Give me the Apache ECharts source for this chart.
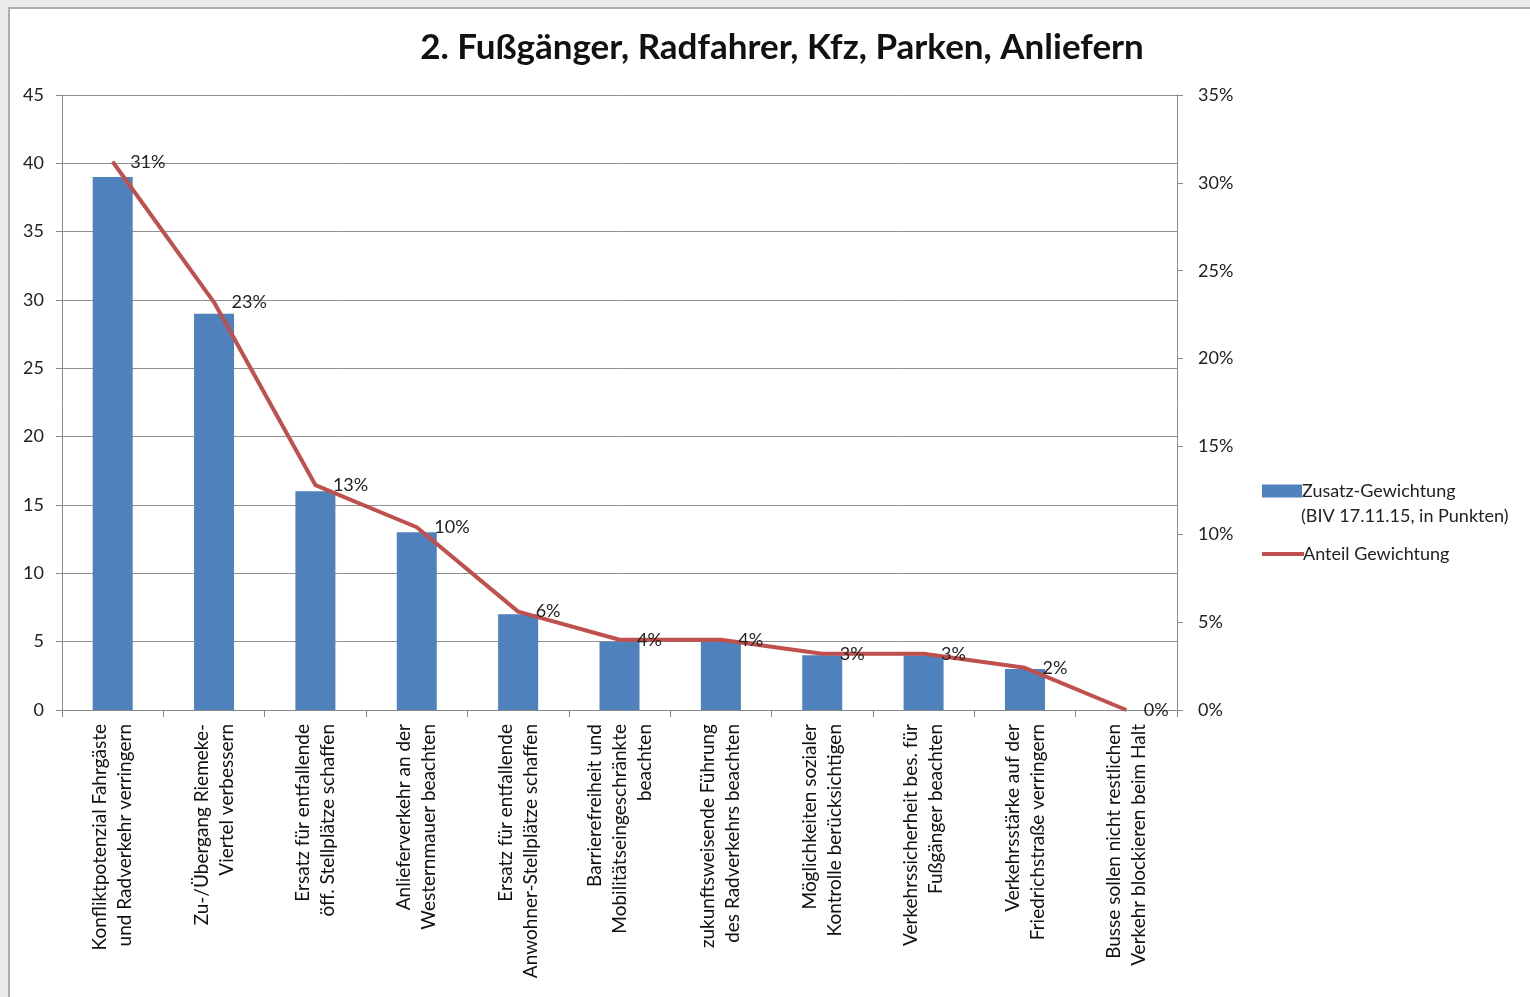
<!DOCTYPE html>
<html>
<head>
<meta charset="utf-8">
<script src="https://cdn.jsdelivr.net/npm/echarts@6/dist/echarts.min.js"></script>
<style>
  html, body { margin: 0; padding: 0; background: #ebebeb; width: 1530px; height: 997px; overflow: hidden; }
  #frame { position: absolute; left: 8px; top: 7px; width: 1530px; height: 1000px; background: #fff; border-left: 2px solid #adadad; border-top: 2px solid #adadad; box-sizing: border-box; }
  #chart { position: absolute; left: 0; top: 0; width: 1530px; height: 997px; }
</style>
</head>
<body>
<div id="frame"></div>
<div id="chart"></div>
<script>
const categories = [
  "Konfliktpotenzial Fahrgäste\nund Radverkehr verringern",
  "Zu-/Übergang Riemeke-\nViertel verbessern",
  "Ersatz für entfallende\nöff. Stellplätze schaffen",
  "Anlieferverkehr an der\nWesternmauer beachten",
  "Ersatz für entfallende\nAnwohner-Stellplätze schaffen",
  "Barrierefreiheit und\nMobilitätseingeschränkte\nbeachten",
  "zukunftsweisende Führung\ndes Radverkehrs beachten",
  "Möglichkeiten sozialer\nKontrolle berücksichtigen",
  "Verkehrssicherheit bes. für\nFußgänger beachten",
  "Verkehrsstärke auf der\nFriedrichstraße verringern",
  "Busse sollen nicht restlichen\nVerkehr blockieren beim Halt"
];
const points = [39, 29, 16, 13, 7, 5, 5, 4, 4, 3, 0];
const shares = [31.2, 23.2, 12.8, 10.4, 5.6, 4.0, 4.0, 3.2, 3.2, 2.4, 0];
const leftTicks = { min: 0, max: 45, interval: 5 };
const rightTicks = { min: 0, max: 35, interval: 5 };
const titleText = "2. Fußgänger, Radfahrer, Kfz, Parken, Anliefern";
const barName = "Zusatz-Gewichtung (BIV 17.11.15, in Punkten)";
const barLegendLines = ["Zusatz-Gewichtung", "(BIV 17.11.15, in Punkten)"];
const lineName = "Anteil Gewichtung";

const FONT = "Lato, 'Open Sans', sans-serif";
const chart = echarts.init(document.getElementById('chart'));
const axisColor = '#8a8a8a';
chart.setOption({
  animation: false,
  backgroundColor: 'transparent',
  textStyle: { fontFamily: FONT },
  title: {
    text: titleText,
    left: 777, top: 25, textAlign: 'center',
    textStyle: { fontFamily: FONT, fontSize: 35, fontWeight: 'bold', color: '#111' }
  },
  grid: { left: 62, right: 353, top: 95, bottom: 287, containLabel: false },
  legend: [
    {
      data: [{ name: barName, icon: 'rect' }], orient: 'vertical', left: 1257, top: 477,
      itemWidth: 40, itemHeight: 13, itemGap: 0,
      formatter: () => barLegendLines[0],
      textStyle: { fontFamily: FONT, fontSize: 18, color: '#222', padding: [0, 0, 0, -5] }
    },
    {
      data: [{ name: lineName, icon: 'rect' }], orient: 'vertical', left: 1257, top: 540,
      itemWidth: 42, itemHeight: 4, itemGap: 0,
      textStyle: { fontFamily: FONT, fontSize: 18, color: '#222', padding: [0, 0, 0, -6] }
    }
  ],
  graphic: [
    { type: 'text', left: 1301, top: 507, style: { text: barLegendLines[1], font: '18px ' + FONT, fill: '#222' } }
  ],
  xAxis: {
    type: 'category', data: categories,
    axisLine: { lineStyle: { color: axisColor, width: 1 } },
    axisTick: { show: true, interval: 0, length: 7, lineStyle: { color: axisColor } },
    axisLabel: { interval: 0, rotate: 90, margin: 14, fontFamily: FONT, fontSize: 19, lineHeight: 25, color: '#111' }
  },
  yAxis: [
    {
      type: 'value', min: leftTicks.min, max: leftTicks.max, interval: leftTicks.interval,
      axisLine: { show: true, lineStyle: { color: axisColor } },
      axisTick: { show: true, length: 6, lineStyle: { color: axisColor } },
      axisLabel: { margin: 18, fontFamily: FONT, fontSize: 18, color: '#222' },
      splitLine: { lineStyle: { color: '#8f8f8f', width: 1 } }
    },
    {
      type: 'value', min: rightTicks.min, max: rightTicks.max, interval: rightTicks.interval,
      axisLine: { show: true, lineStyle: { color: axisColor } },
      axisTick: { show: true, length: 6, lineStyle: { color: axisColor } },
      axisLabel: { margin: 21, fontFamily: FONT, fontSize: 18, color: '#222', formatter: v => v + '%' },
      splitLine: { show: false }
    }
  ],
  series: [
    {
      name: barName, type: 'bar', data: points, yAxisIndex: 0,
      barWidth: 40, itemStyle: { color: '#4f81bd' }, z: 2
    },
    {
      name: lineName, type: 'line', data: shares, yAxisIndex: 1,
      symbol: 'circle', symbolSize: 1, showSymbol: true,
      itemStyle: { color: '#c0504d' },
      lineStyle: { color: '#c0504d', width: 4 },
      label: {
        show: true, position: 'right', distance: 17,
        fontFamily: FONT, fontSize: 18, color: '#222',
        formatter: p => Math.round(p.value) + '%'
      },
      z: 3
    }
  ]
});
</script>
</body>
</html>
